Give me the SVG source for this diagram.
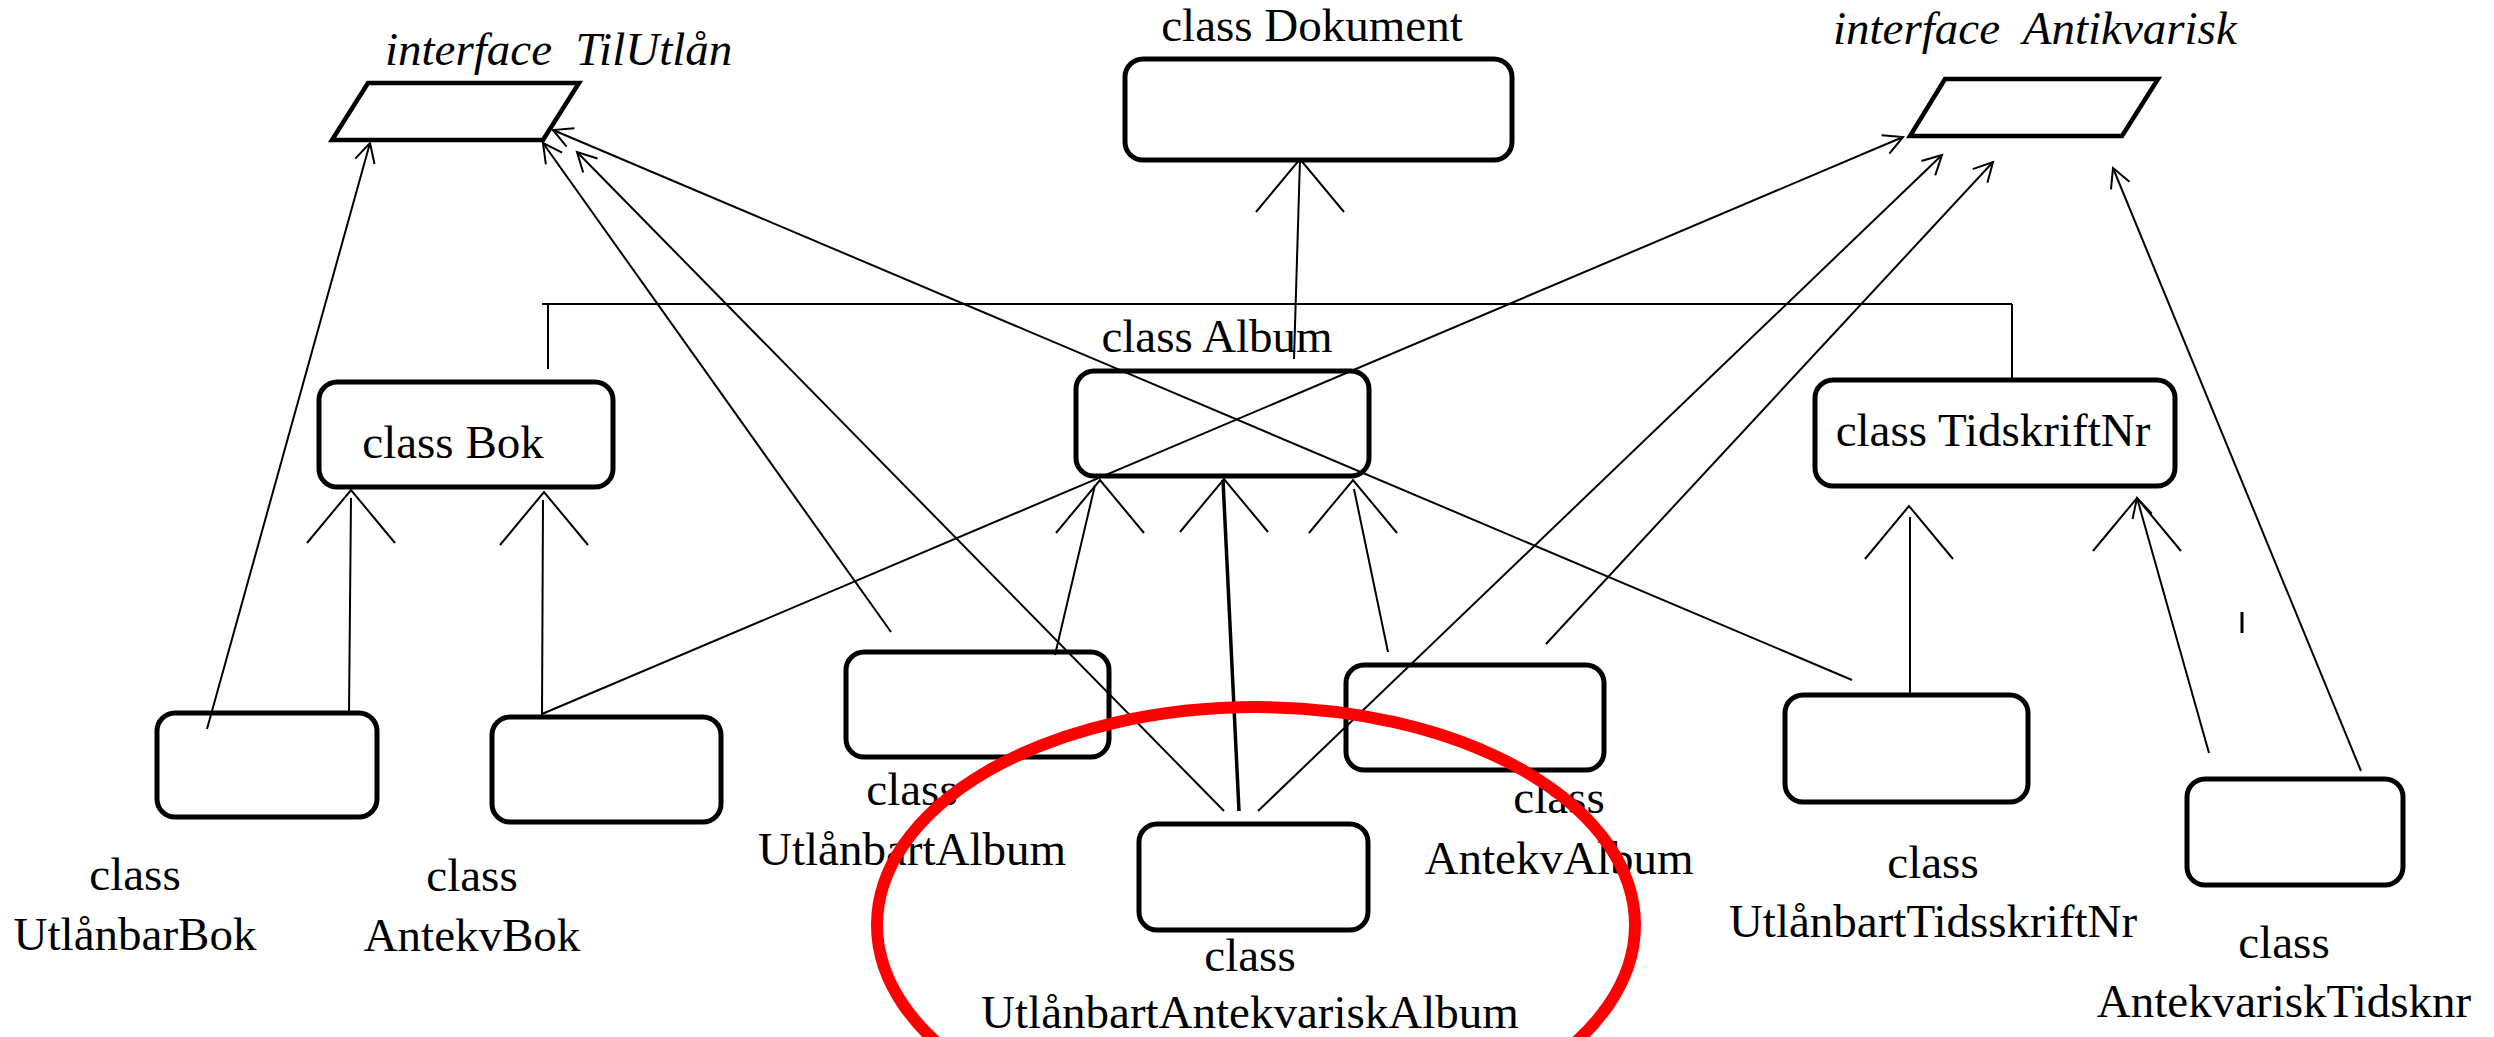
<svg xmlns="http://www.w3.org/2000/svg" xmlns:xlink="http://www.w3.org/1999/xlink" width="2494" height="1037" viewBox="0 0 2494 1037">
  <style>
    .box { fill: none; stroke: #000; stroke-width: 5; }
    .iface { fill: none; stroke: #000; stroke-width: 4.5; stroke-linejoin: miter; }
    .lbl { font-family: "Liberation Serif", "Times New Roman", serif; font-size: 47px; fill: #000; }
    .it { font-style: italic; white-space: pre; }
    .mid { text-anchor: middle; }
    .ln { fill: none; stroke: #000; stroke-width: 2; }
    .thick { stroke-width: 3.5; }
    .impl { fill: none; stroke: #000; stroke-width: 2; marker-end: url(#open); }
  </style>
  <defs>
    <!-- small open arrowhead for interface realisation -->
    <marker id="open" viewBox="-24 -14 28 28" refX="0" refY="0" markerWidth="28" markerHeight="28" markerUnits="userSpaceOnUse" orient="auto">
      <path d="M-19,-10 L0,0 L-19,10" fill="none" stroke="#000" stroke-width="2"/>
    </marker>
    <!-- large open V used for class inheritance -->
    <path id="bigV" d="M-44,53 L0,0 L44,53" fill="none" stroke="#000" stroke-width="2"/>
  </defs>

  <rect width="2494" height="1037" fill="#fff"/>

  <!-- nodes -->
  <g id="TilUtlan">
    <polygon class="iface" points="368,83 579,83 543,140 332,140"/>
    <text class="lbl it" x="385" y="65" xml:space="preserve">interface  TilUtlån</text>
  </g>
  <g id="Dokument">
    <rect class="box" x="1125" y="59" width="387" height="101" rx="18"/>
    <text class="lbl mid" x="1312" y="41">class Dokument</text>
  </g>
  <g id="Antikvarisk">
    <polygon class="iface" points="1945,79 2158,79 2122,136 1910,136"/>
    <text class="lbl it" x="1833" y="44" xml:space="preserve">interface  Antikvarisk</text>
  </g>
  <g id="Bok">
    <rect class="box" x="319" y="382" width="294" height="105" rx="18"/>
    <text class="lbl mid" x="453" y="458">class Bok</text>
  </g>
  <g id="Album">
    <rect class="box" x="1076" y="371" width="293" height="105" rx="18"/>
    <text class="lbl mid" x="1217" y="352">class Album</text>
  </g>
  <g id="TidskriftNr">
    <rect class="box" x="1815" y="380" width="360" height="106" rx="18"/>
    <text class="lbl mid" x="1993" y="446">class TidskriftNr</text>
  </g>
  <g id="UtlanbarBok">
    <rect class="box" x="157" y="713" width="220" height="104" rx="18"/>
    <text class="lbl mid" x="135" y="890">class</text>
    <text class="lbl mid" x="135" y="950">UtlånbarBok</text>
  </g>
  <g id="AntekvBok">
    <rect class="box" x="492" y="717" width="229" height="105" rx="18"/>
    <text class="lbl mid" x="472" y="891">class</text>
    <text class="lbl mid" x="472" y="951">AntekvBok</text>
  </g>
  <g id="UtlanbartAlbum">
    <rect class="box" x="846" y="652" width="263" height="105" rx="18"/>
    <text class="lbl mid" x="912" y="805">class</text>
    <text class="lbl mid" x="912" y="865">UtlånbartAlbum</text>
  </g>
  <g id="AntekvAlbum">
    <rect class="box" x="1346" y="665" width="258" height="105" rx="18"/>
    <text class="lbl mid" x="1559" y="813">class</text>
    <text class="lbl mid" x="1559" y="874">AntekvAlbum</text>
  </g>
  <g id="UtlanbartAntekvariskAlbum">
    <rect class="box" x="1139" y="824" width="229" height="106" rx="18"/>
    <text class="lbl mid" x="1250" y="971">class</text>
    <text class="lbl mid" x="1250" y="1028">UtlånbartAntekvariskAlbum</text>
  </g>
  <g id="UtlanbartTidsskriftNr">
    <rect class="box" x="1785" y="695" width="243" height="107" rx="18"/>
    <text class="lbl mid" x="1933" y="878">class</text>
    <text class="lbl mid" x="1933" y="937">UtlånbartTidsskriftNr</text>
  </g>
  <g id="AntekvariskTidsknr">
    <rect class="box" x="2187" y="779" width="216" height="106" rx="18"/>
    <text class="lbl mid" x="2284" y="958">class</text>
    <text class="lbl mid" x="2284" y="1017">AntekvariskTidsknr</text>
  </g>

  <!-- connectors -->
  <g id="connectors">
    <!-- inheritance from Dokument -->
    <use xlink:href="#bigV" x="1300" y="159"/>
    <line class="ln" x1="1300" y1="159" x2="1294" y2="359"/>
    <line class="ln" x1="542" y1="304" x2="2012" y2="304"/>
    <line class="ln" x1="548" y1="304" x2="548" y2="369"/>
    <line class="ln" x1="2012" y1="304" x2="2012" y2="378"/>

    <!-- inheritance from Bok -->
    <use xlink:href="#bigV" x="351" y="490"/>
    <line class="ln" x1="351" y1="498" x2="349" y2="713"/>
    <use xlink:href="#bigV" x="544" y="492"/>
    <line class="ln" x1="543" y1="500" x2="542" y2="717"/>

    <!-- inheritance from Album -->
    <use xlink:href="#bigV" x="1100" y="480"/>
    <line class="ln" x1="1095" y1="485" x2="1055" y2="655"/>
    <use xlink:href="#bigV" x="1224" y="479"/>
    <line class="ln thick" x1="1223" y1="480" x2="1239" y2="811"/>
    <use xlink:href="#bigV" x="1353" y="480"/>
    <line class="ln" x1="1354" y1="489" x2="1388" y2="652"/>

    <!-- inheritance from TidskriftNr -->
    <use xlink:href="#bigV" x="1909" y="506"/>
    <line class="ln" x1="1910" y1="517" x2="1910" y2="695"/>
    <use xlink:href="#bigV" x="2137" y="498"/>
    <line class="impl" x1="2209" y1="753" x2="2137" y2="498"/>

    <!-- realisation of TilUtlån -->
    <line class="impl" x1="207" y1="729" x2="370" y2="143"/>
    <line class="impl" x1="891" y1="632" x2="543" y2="143"/>
    <line class="impl" x1="1224" y1="811" x2="577" y2="152"/>
    <line class="impl" x1="1852" y1="680" x2="553" y2="130"/>

    <!-- realisation of Antikvarisk -->
    <line class="impl" x1="542" y1="714" x2="1903" y2="137"/>
    <line class="impl" x1="1258" y1="811" x2="1942" y2="155"/>
    <line class="impl" x1="1546" y1="644" x2="1993" y2="162"/>
    <line class="impl" x1="2361" y1="771" x2="2113" y2="168"/>
  </g>

  <line x1="2242" y1="612" x2="2242" y2="633" stroke="#000" stroke-width="3"/>

  <!-- highlight -->
  <ellipse cx="1256" cy="925" rx="379" ry="218" fill="none" stroke="#ff0000" stroke-width="12"/>
</svg>
